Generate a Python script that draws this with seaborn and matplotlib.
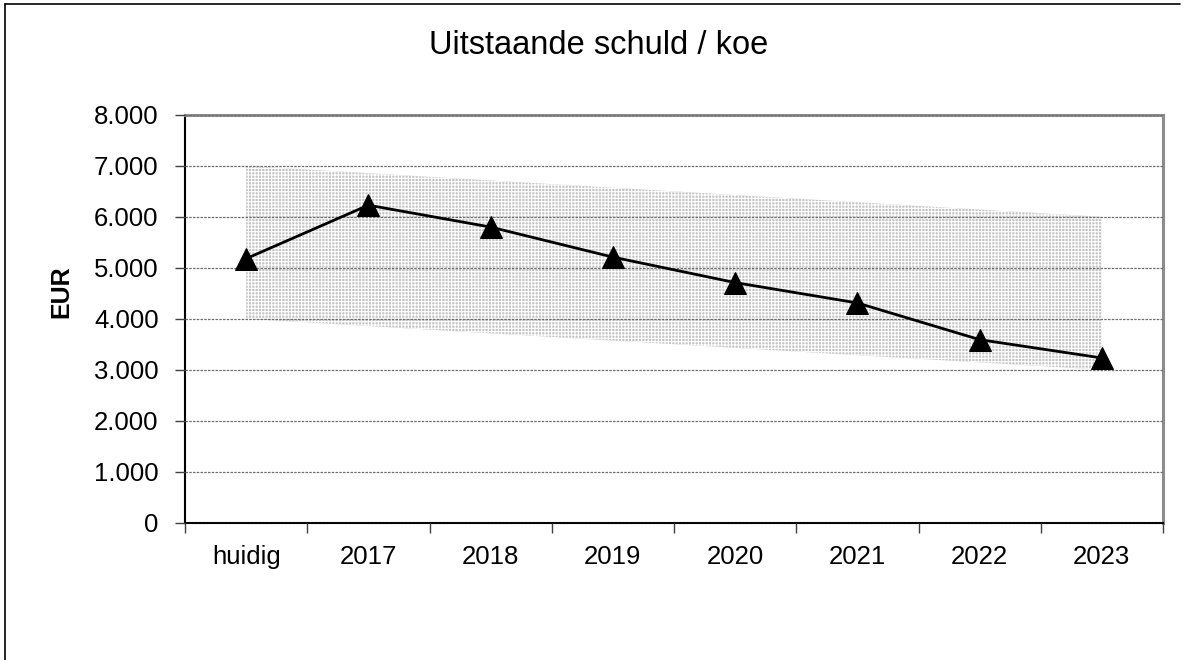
import numpy as np
import pandas as pd
import matplotlib
matplotlib.use("Agg")
import matplotlib.pyplot as plt
import seaborn as sns
from matplotlib.lines import Line2D
from matplotlib.ticker import FixedLocator, FuncFormatter

# ---- data ----
categories = ["huidig", "2017", "2018", "2019", "2020", "2021", "2022", "2023"]
schuld = [5180, 6230, 5800, 5210, 4710, 4310, 3590, 3230]
band_cats = ["huidig", "2023"]
band_top = [7000, 6000]
band_bottom = [4000, 3000]
y_ticks = [0, 1000, 2000, 3000, 4000, 5000, 6000, 7000, 8000]

sns.set_theme(style="white")
plt.rcParams["font.family"] = ["Liberation Sans", "DejaVu Sans"]
plt.rcParams["hatch.linewidth"] = 0.8
plt.rcParams["hatch.color"] = "#8e8e8e"

fig = plt.figure(figsize=(11.85, 6.6), dpi=100)
ax = fig.add_axes([185 / 1185, 1 - 522.5 / 660, (1163 - 185) / 1185, (522.5 - 115) / 660])

pos = {c: i for i, c in enumerate(categories)}
df = pd.DataFrame({"pos": [pos[c] for c in categories], "schuld": schuld})

# band
bx = [pos[c] for c in band_cats]
ax.fill_between(bx, band_bottom, band_top, facecolor="#c4c4c4", edgecolor="none",
                hatch="+++++", linewidth=0, zorder=1)

sns.lineplot(data=df, x="pos", y="schuld", ax=ax, color="black", linewidth=2.0,
             marker="^", markersize=16.5, markeredgecolor="black",
             markerfacecolor="black", zorder=4)

ax.set_xlim(-0.5, len(categories) - 0.5)
ax.set_ylim(0, 8000)
ax.set_xlabel("")
ax.set_ylabel("")

ax.yaxis.set_major_locator(FixedLocator(y_ticks))
ax.yaxis.set_major_formatter(FuncFormatter(lambda v, p: f"{int(v):,}".replace(",", ".")))
ax.set_xticks(range(len(categories)))
ax.set_xticklabels(categories)
ax.set_xticks(np.arange(-0.5, len(categories)), minor=True)

ax.tick_params(axis="x", which="major", length=0, pad=16, labelsize=18.5, colors="black")
ax.tick_params(axis="x", which="minor", length=7, width=1, color="#404040", direction="out", bottom=True)
ax.tick_params(axis="y", which="major", length=7, width=1, color="#404040", direction="out",
               left=True, pad=12, labelsize=18.5, labelcolor="black")

ax.grid(axis="y", color="#6e6e6e", linestyle=(0, (2, 1)), linewidth=0.9, zorder=2)
ax.set_axisbelow(False)
for gl in ax.get_ygridlines():
    gl.set_zorder(2)

for s in ["left", "bottom"]:
    ax.spines[s].set_color("black")
    ax.spines[s].set_linewidth(1.5)
for s in ["top", "right"]:
    ax.spines[s].set_color("#8c8c8c")
    ax.spines[s].set_linewidth(2.2)

fig.text(599 / 1185, 1 - 45 / 660, "Uitstaande schuld / koe", ha="center", va="center",
         fontsize=23.5, color="black")
fig.text(61 / 1185, 1 - 292 / 660, "EUR", rotation=90, ha="center", va="center",
         fontsize=18, fontweight="bold", color="black")

# outer frame (top & left visible)
fig.add_artist(Line2D([5 / 1185, 1180 / 1185], [1 - 4 / 660, 1 - 4 / 660],
                      transform=fig.transFigure, color="black", linewidth=1.2))
fig.add_artist(Line2D([5 / 1185, 5 / 1185], [0, 1 - 4 / 660],
                      transform=fig.transFigure, color="black", linewidth=1.2))

fig.savefig("out.png", dpi=100)
